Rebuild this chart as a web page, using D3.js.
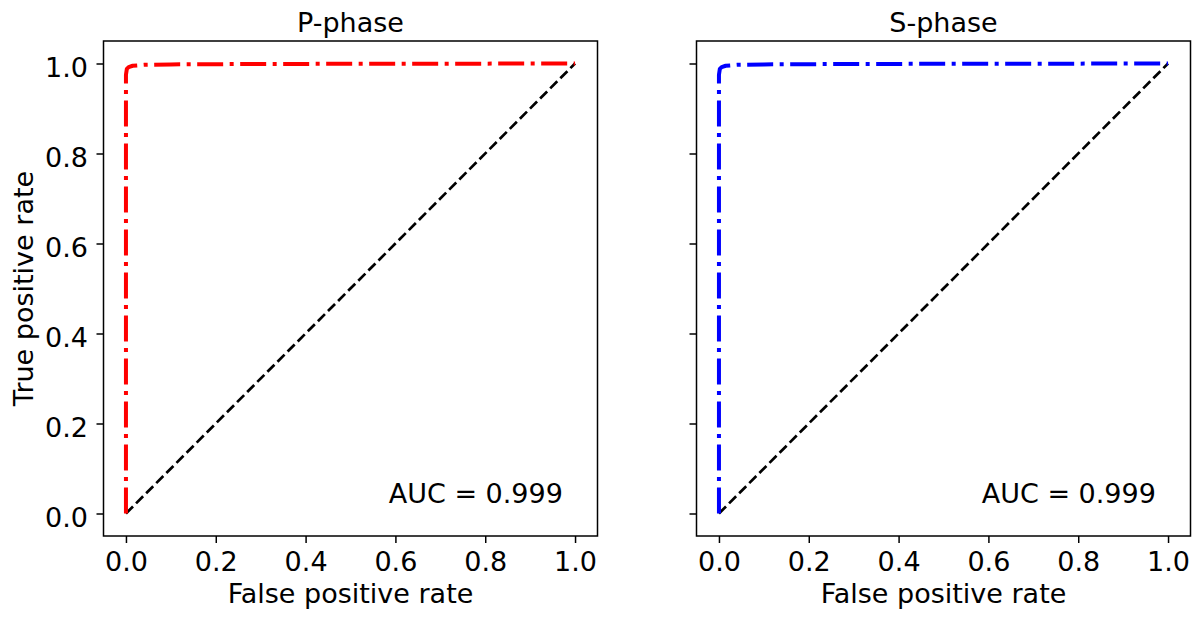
<!DOCTYPE html>
<html>
<head>
<meta charset="utf-8">
<script src="https://cdn.jsdelivr.net/npm/d3@7"></script>
<style>
  body { margin: 0; background: #fff; }
  text { font-family: "DejaVu Sans", sans-serif; fill: #000; }
</style>
</head>
<body>
<svg width="1198" height="617"></svg>
<script>
// ROC data
var titles = ["P-phase", "S-phase"];
var colors = ["#ff0000", "#0000ff"];
var aucLabels = ["AUC = 0.999", "AUC = 0.999"];
var pFpr = [0, 0, 0.002, 0.006, 0.015, 0.04, 0.1, 0.3, 1];
var pTpr = [0, 0.975, 0.988, 0.992, 0.995, 0.997, 0.998, 0.999, 1];
var sFpr = [0, 0, 0.002, 0.006, 0.015, 0.04, 0.1, 0.3, 1];
var sTpr = [0, 0.975, 0.988, 0.992, 0.995, 0.997, 0.998, 0.999, 1];
var tickValues = [0, 0.2, 0.4, 0.6, 0.8, 1.0];
var diagonal = [[0, 0], [1, 1]];

var svg = d3.select("svg");

var panelLeft = [103.5, 696.5],
    panelTop = 41,
    panelW = 494,
    panelH = 495,
    fontSize = "27px";

var curves = [
  d3.zip(pFpr, pTpr),
  d3.zip(sFpr, sTpr)
];

var x = d3.scaleLinear().domain([-0.05, 1.05]).range([0, panelW]);
var y = d3.scaleLinear().domain([-0.05, 1.05]).range([panelH, 0]);

var line = d3.line()
    .x(function(d) { return x(d[0]); })
    .y(function(d) { return y(d[1]); });

curves.forEach(function(data, i) {
  var g = svg.append("g")
      .attr("transform", "translate(" + panelLeft[i] + "," + panelTop + ")");

  // chance line
  g.append("path")
      .datum(diagonal)
      .attr("d", line)
      .attr("fill", "none")
      .attr("stroke", "#000")
      .attr("stroke-width", 2.7)
      .attr("stroke-dasharray", "10,4.3");

  // roc curve
  g.append("path")
      .datum(data)
      .attr("d", line)
      .attr("fill", "none")
      .attr("stroke", colors[i])
      .attr("stroke-width", 4)
      .attr("stroke-linejoin", "round")
      .attr("stroke-dasharray", "26,6.5,4,6.5");

  g.append("text")
      .attr("x", x(0.973))
      .attr("y", y(0.023))
      .attr("text-anchor", "end")
      .style("font-size", fontSize)
      .text(aucLabels[i]);

  // axes
  var xAxis = g.append("g")
      .attr("transform", "translate(0," + panelH + ")")
      .call(d3.axisBottom(x).tickValues(tickValues).tickSize(7).tickSizeOuter(0)
        .tickFormat(d3.format(".1f")));
  xAxis.select(".domain").remove();
  xAxis.selectAll(".tick line").attr("stroke-width", 1.5);
  xAxis.selectAll(".tick text")
      .attr("y", 35).attr("dy", null)
      .style("font-size", fontSize)
      .style("font-family", "DejaVu Sans");

  var yAxis = g.append("g")
      .call(d3.axisLeft(y).tickValues(tickValues).tickSize(7).tickSizeOuter(0)
        .tickFormat(i === 0 ? d3.format(".1f") : ""));
  yAxis.select(".domain").remove();
  yAxis.selectAll(".tick line").attr("stroke-width", 1.5);
  yAxis.selectAll(".tick text")
      .attr("x", -15.5).attr("dy", "12.5px")
      .style("font-size", fontSize)
      .style("font-family", "DejaVu Sans");

  // frame
  g.append("rect")
      .attr("width", panelW)
      .attr("height", panelH)
      .attr("fill", "none")
      .attr("stroke", "#000")
      .attr("stroke-width", 1.5);

  g.append("text")
      .attr("x", panelW / 2)
      .attr("y", -9)
      .attr("text-anchor", "middle")
      .style("font-size", fontSize)
      .text(titles[i]);

  g.append("text")
      .attr("x", panelW / 2)
      .attr("y", 603 - panelTop)
      .attr("text-anchor", "middle")
      .style("font-size", fontSize)
      .text("False positive rate");
});

svg.append("text")
    .attr("transform", "translate(33," + (panelTop + panelH / 2) + ") rotate(-90)")
    .attr("text-anchor", "middle")
    .style("font-size", fontSize)
    .text("True positive rate");
</script>
</body>
</html>
